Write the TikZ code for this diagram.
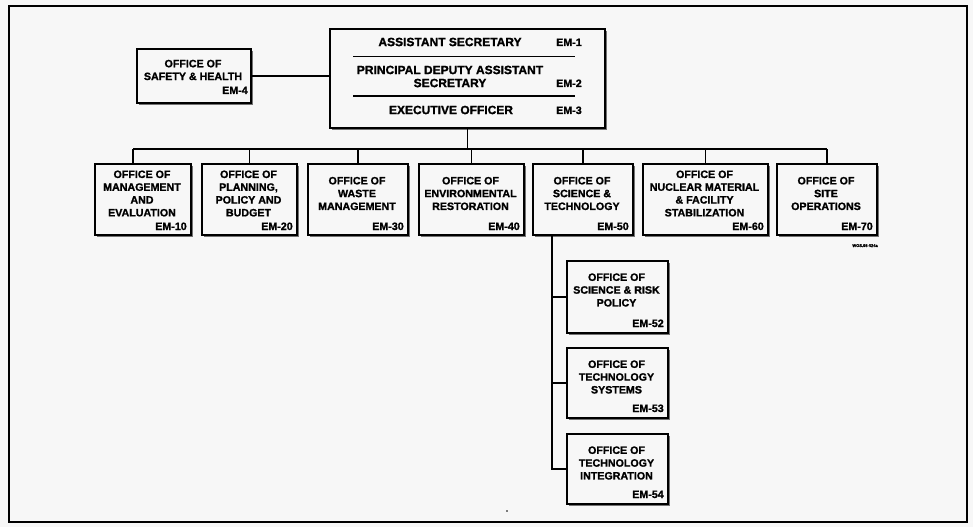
\documentclass[tikz,border=0pt]{standalone}
\usepackage{fontspec}
\setmainfont{Liberation Sans}[BoldFeatures={FakeBold=1.3}]
\usetikzlibrary{shadows}
\definecolor{bg}{HTML}{F7F7F7}
\tikzset{
  org/.style={draw=black, line width=1.2pt, fill=bg, inner sep=0pt,
    drop shadow={opacity=1, fill=black!55, shadow xshift=1.6pt, shadow yshift=-1.6pt}},
  txt/.style={align=center, inner sep=0pt, font=\fontsize{8}{9.6}\selectfont\bfseries},
  big/.style={align=center, inner sep=0pt, font=\fontsize{9}{9.8}\selectfont\bfseries},
  code/.style={anchor=base east, inner sep=0pt, font=\fontsize{8}{9.6}\selectfont\bfseries},
  link/.style={draw=black, line width=1.1pt},
}
\newcommand{\orgbox}[6]{%
  \node[org, anchor=north west, minimum width={(#4-#2)*0.75pt}, minimum height={(#5-#3)*0.75pt}] (#1) at (#2,#3) {};
}
\begin{document}
\begin{tikzpicture}[x=0.75pt,y=-0.75pt]
\fill[bg] (0,0) rectangle (973,527);
\useasboundingbox (0,0) rectangle (973,527);
\draw[line width=1.2pt] (9,6) rectangle (967,522);

% top box
\orgbox{top}{329}{28}{604}{127}{}
\node[big] (as) at (450,42) {ASSISTANT SECRETARY};
\node[code] (em1) at (582,46) {EM-1};
\draw[line width=0.7pt] (353,56) -- (575,56);
\node[big] (pd) at (450,76.5) {PRINCIPAL DEPUTY ASSISTANT\\SECRETARY};
\node[code] (em2) at (582,87) {EM-2};
\draw[line width=1.3pt] (353,96) -- (575,96);
\node[big] (eo) at (451,110) {EXECUTIVE OFFICER};
\node[code] (em3) at (582,114) {EM-3};

% safety
\orgbox{saf}{136}{48}{250}{102}{}
\node[txt] (safT) at (193,70) {OFFICE OF\\SAFETY \& HEALTH};
\node[code] (em4) at (248,94) {EM-4};
\draw[link] (saf.east) -- (saf.east -| top.west);

% row boxes
\orgbox{b10}{94}{163}{190}{234}{}
\node[txt] (t10) at (142,193.5) {OFFICE OF\\MANAGEMENT\\AND\\EVALUATION};
\node[code] (c10) at (187,230) {EM-10};
\orgbox{b20}{201}{163}{296}{234}{}
\node[txt] (t20) at (248.5,193.5) {OFFICE OF\\PLANNING,\\POLICY AND\\BUDGET};
\node[code] (c20) at (293,230) {EM-20};
\orgbox{b30}{307}{163}{407}{234}{}
\node[txt] (t30) at (357,193.5) {OFFICE OF\\WASTE\\MANAGEMENT};
\node[code] (c30) at (404,230) {EM-30};
\orgbox{b40}{418}{163}{523}{234}{}
\node[txt] (t40) at (470.5,193.5) {OFFICE OF\\ENVIRONMENTAL\\RESTORATION};
\node[code] (c40) at (520,230) {EM-40};
\orgbox{b50}{532}{163}{632}{234}{}
\node[txt] (t50) at (582,193.5) {OFFICE OF\\SCIENCE \&\\TECHNOLOGY};
\node[code] (c50) at (629,230) {EM-50};
\orgbox{b60}{642}{163}{767}{234}{}
\node[txt] (t60) at (704.5,193.5) {OFFICE OF\\NUCLEAR MATERIAL\\\& FACILITY\\STABILIZATION};
\node[code] (c60) at (764,230) {EM-60};
\orgbox{b70}{776}{163}{876}{234}{}
\node[txt] (t70) at (826,193.5) {OFFICE OF\\SITE\\OPERATIONS};
\node[code] (c70) at (873,230) {EM-70};
\node[anchor=base east, inner sep=0pt, font=\fontsize{3}{3}\selectfont\bfseries] (ref) at (878,247) {WOS.95-024a};

% bus
\coordinate (busL) at (133,149);
\coordinate (busR) at (827,149);
\draw[link] (top.south) -- (top.south |- busL);
\draw[link] (busL) -- (busR);
\draw[link] (busL) -- (busL |- b10.north);
\foreach \b in {b20,b30,b40,b50,b60,b70} {
  \draw[link] (\b.north) -- (\b.north |- busL);
}

% sub boxes
\orgbox{s52}{566}{260}{667}{332}{}
\node[txt] (t52) at (616.5,290) {OFFICE OF\\SCIENCE \& RISK\\POLICY};
\node[code] (c52) at (664,327) {EM-52};
\orgbox{s53}{566}{347}{667}{417}{}
\node[txt] (t53) at (616.5,377) {OFFICE OF\\TECHNOLOGY\\SYSTEMS};
\node[code] (c53) at (664,412) {EM-53};
\orgbox{s54}{566}{433}{667}{503}{}
\node[txt] (t54) at (616.5,463) {OFFICE OF\\TECHNOLOGY\\INTEGRATION};
\node[code] (c54) at (664,498) {EM-54};

\coordinate (sv) at (552,234);
\draw[link] (sv) |- (s54.west);
\draw[link] (sv |- s52.west) -- (s52.west);
\draw[link] (sv |- s53.west) -- (s53.west);

\fill (507,511) circle (0.9);
\end{tikzpicture}
\end{document}
